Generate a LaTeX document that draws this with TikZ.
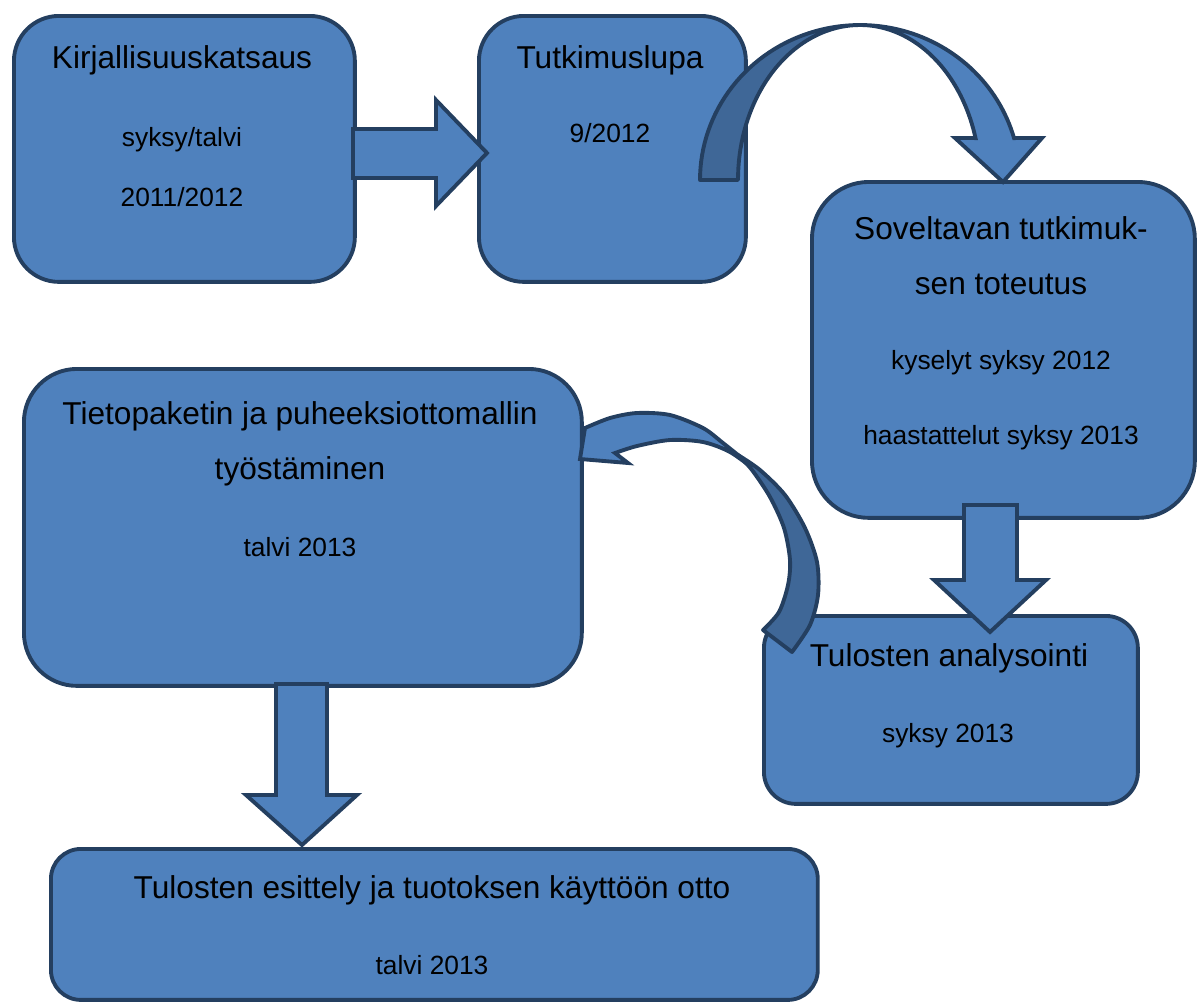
\documentclass[tikz,border=0pt]{standalone}
\usepackage{fontspec}
\setmainfont{Liberation Sans}
\definecolor{boxfill}{HTML}{4F81BD}
\definecolor{boxline}{HTML}{243F60}
\definecolor{darkband}{HTML}{3F6797}
\begin{document}
\begin{tikzpicture}[x=0.02cm,y=-0.02cm,
  box/.style={draw=boxline, fill=boxfill, line width=2.2pt, rounded corners=#1, inner sep=0pt, anchor=north west},
  blockarrow/.style={draw=boxline, fill=boxfill, line width=2.2pt, line join=miter},
  backband/.style={draw=boxline, fill=darkband, line width=2.2pt, line join=round},
  title/.style={font=\fontsize{18}{22}\selectfont, anchor=base, inner sep=0pt},
  small/.style={font=\fontsize{15}{18}\selectfont, anchor=base, inner sep=0pt}]
\useasboundingbox (0,0) rectangle (1200,1002);

% boxes
\node[box=0.9cm, minimum width=6.82cm, minimum height=5.32cm] (b1) at (12,14) {};
\node[box=0.9cm, minimum width=5.34cm, minimum height=5.32cm] (b2) at (477,14) {};
\node[box=1.14cm, minimum width=7.66cm, minimum height=6.72cm] (b3) at (810,180) {};
\node[box=1.06cm, minimum width=11.16cm, minimum height=6.34cm] (b4) at (22,367) {};
\node[box=0.64cm, minimum width=7.48cm, minimum height=3.76cm] (b5) at (762,614) {};
\node[box=0.6cm, minimum width=15.34cm, minimum height=3.02cm] (b6) at (49,847) {};

% texts
\node[title] (t1) at (182,68) {Kirjallisuuskatsaus};
\node[small] (t1a) at (182,146) {syksy/talvi};
\node[small] (t1b) at (182,206) {2011/2012};
\node[title] (t2) at (610,68) {Tutkimuslupa};
\node[small] (t2a) at (610,142) {9/2012};
\node[title] (t3) at (1001,239) {Soveltavan tutkimuk-};
\node[title] (t3b) at (1001,294) {sen toteutus};
\node[small] (t3c) at (1001,369) {kyselyt syksy 2012};
\node[small] (t3d) at (1001,444) {haastattelut syksy 2013};
\node[title] (t4) at (300,424) {Tietopaketin ja puheeksiottomallin};
\node[title] (t4b) at (300,479) {työstäminen};
\node[small] (t4c) at (300,556) {talvi 2013};
\node[title] (t5) at (949,666) {Tulosten analysointi};
\node[small] (t5a) at (948,742) {syksy 2013};
\node[title] (t6) at (432,898) {Tulosten esittely ja tuotoksen käyttöön otto};
\node[small] (t6a) at (432,974) {talvi 2013};

% straight block arrows
\draw[blockarrow] (353,129) -- (436,129) -- (436,100) -- (487,153) -- (436,206) -- (436,178) -- (353,178) -- cycle;
\draw[blockarrow] (964,505) -- (1017,505) -- (1017,580) -- (1046,580) -- (990,632) -- (934,580) -- (964,580) -- cycle;
\draw[blockarrow] (276,684) -- (327,684) -- (327,795) -- (357,795) -- (302,845) -- (246,795) -- (276,795) -- cycle;

% top curved arrow
\draw[backband] plot[domain=180:90, samples=40, variable=\t] ({860+160*cos(\t)},{180-155*sin(\t)})
  -- plot[domain=90:180, samples=40, variable=\t] ({860+122*cos(\t)},{180-155*sin(\t)}) -- cycle;
\draw[blockarrow] plot[domain=90:15.7, samples=40, variable=\t] ({860+160*cos(\t)},{180-155*sin(\t)})
  -- (1042,138) -- (1003,182) -- (955,138)
  -- plot[domain=15.7:90, samples=40, variable=\t] ({860+120*cos(\t)},{180-155*sin(\t)}) -- cycle;

% middle curved arrow
\draw[blockarrow] plot[smooth] coordinates {(748,463) (723,443) (703,428) (670,415) (637,413) (610,418) (585,428)}
  -- (580,459) -- (628,463) -- (615,453)
  -- plot[smooth] coordinates {(615,453) (637,446) (670,440) (703,442) (730,452) (755,470)} -- cycle;
\draw[backband] plot[smooth] coordinates {(738,455) (760,470) (785,495) (805,528) (817,562) (818,595) (810,625) (792,652)}
  -- (763,630)
  -- plot[smooth] coordinates {(763,630) (779,612) (788,585) (790,560) (784,528) (770,497) (752,470) (738,455)} -- cycle;
\end{tikzpicture}
\end{document}
